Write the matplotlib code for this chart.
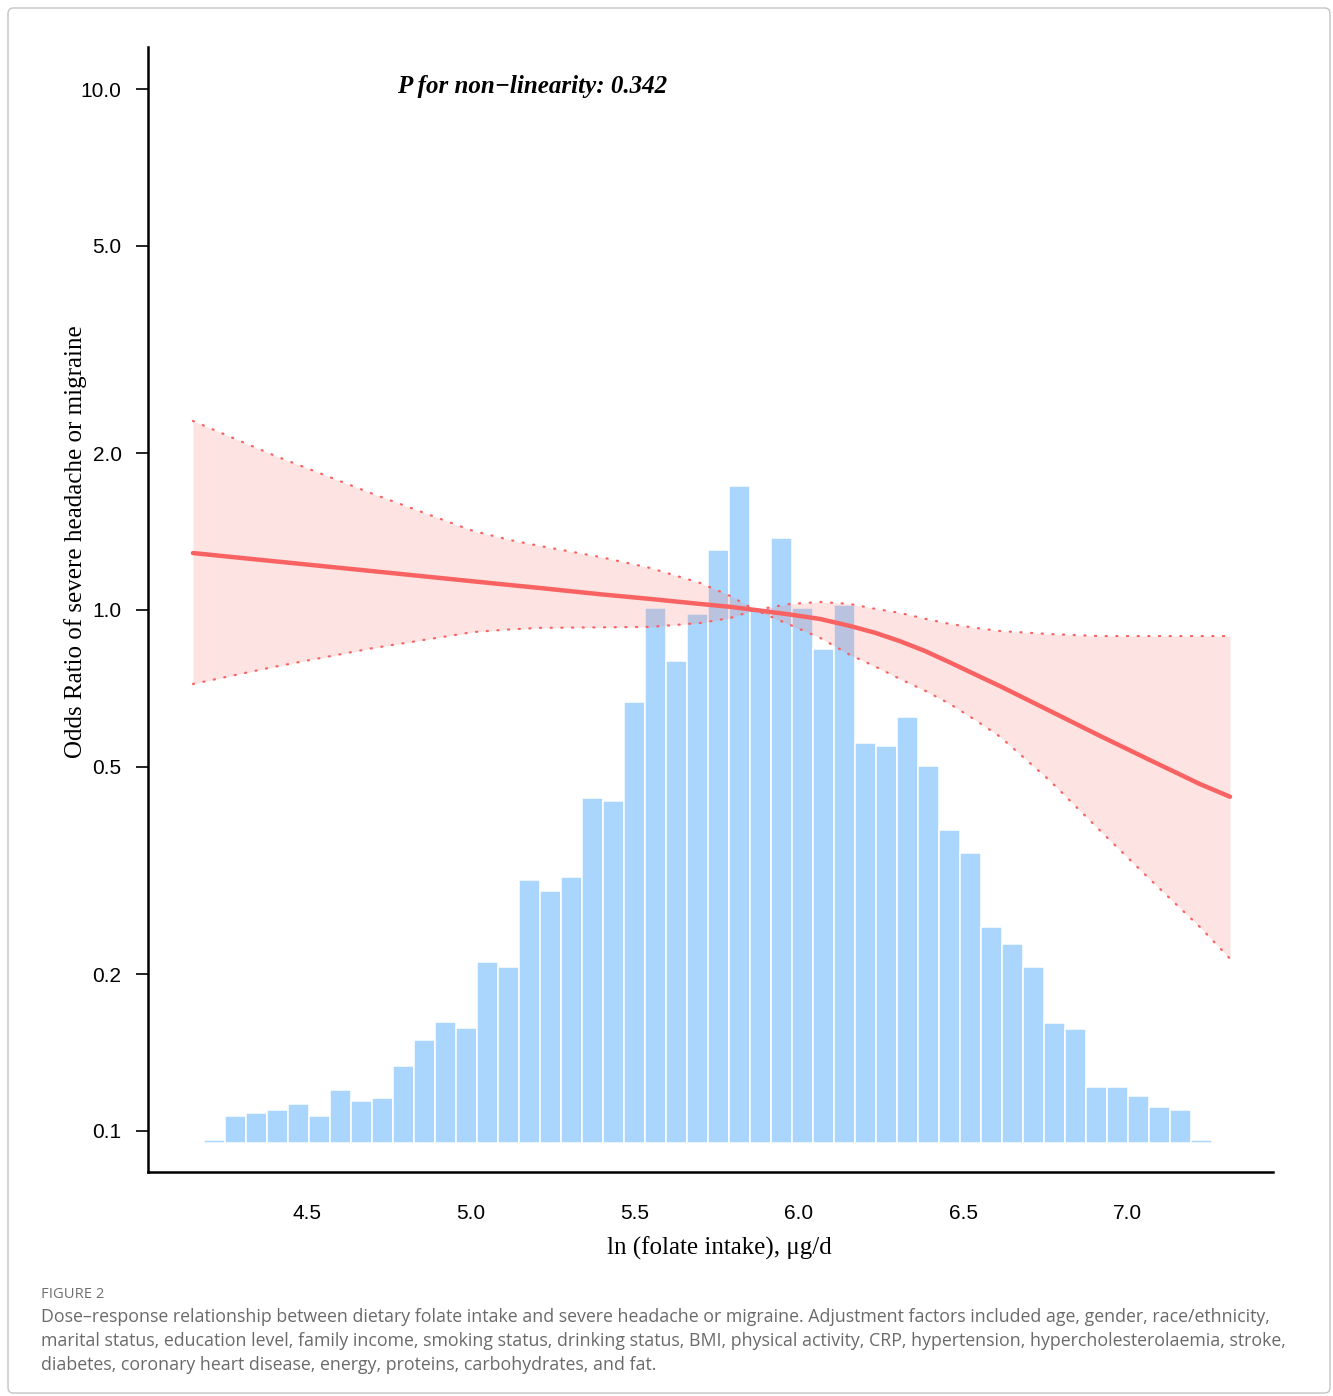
import matplotlib
matplotlib.use("Agg")
import matplotlib.pyplot as plt
from matplotlib.patches import FancyBboxPatch
import numpy as np

# restricted cubic spline: ln(folate) vs odds ratio
x_fit = [4.152, 4.396, 4.701, 5.006, 5.122, 5.210, 5.393, 5.546, 5.698, 5.790, 5.866,
         5.973, 6.064, 6.155, 6.232, 6.308, 6.384, 6.460, 6.537, 6.613, 6.765, 6.918,
         7.070, 7.223, 7.314]
or_fit = [1.286, 1.241, 1.187, 1.135, 1.116, 1.102, 1.072, 1.050, 1.027, 1.014, 1.000,
          0.980, 0.961, 0.932, 0.904, 0.871, 0.834, 0.793, 0.752, 0.714, 0.640, 0.573,
          0.515, 0.463, 0.438]
ci_upper = [2.306, 1.984, 1.670, 1.418, 1.361, 1.327, 1.264, 1.204, 1.127, 1.064, 1.000,
            1.027, 1.036, 1.027, 1.005, 0.987, 0.962, 0.940, 0.924, 0.911, 0.899, 0.891,
            0.891, 0.891, 0.891]
ci_lower = [0.721, 0.777, 0.845, 0.907, 0.918, 0.924, 0.926, 0.928, 0.944, 0.965, 1.000,
            0.936, 0.884, 0.820, 0.779, 0.737, 0.700, 0.660, 0.615, 0.571, 0.470, 0.377,
            0.304, 0.246, 0.214]

# distribution of ln(folate intake), 48 bins
bin_start = 4.186
bin_width = 0.064
hist_counts = [3, 27, 30, 33, 39, 27, 53, 42, 45, 77, 103, 121, 115, 181, 176, 263,
               252, 266, 345, 342, 441, 535, 482, 529, 593, 657, 535, 605, 535, 494,
               538, 400, 397, 426, 377, 313, 290, 216, 199, 176, 120, 114, 56, 56,
               47, 36, 33, 3]

y_ticks = [0.1, 0.2, 0.5, 1.0, 2.0, 5.0, 10.0]
x_ticks = [4.5, 5.0, 5.5, 6.0, 6.5, 7.0]

caption_title = "FIGURE 2"
caption_lines = [
    "Dose\u2013response relationship between dietary folate intake and severe headache or migraine. Adjustment factors included age, gender, race/ethnicity,",
    "marital status, education level, family income, smoking status, drinking status, BMI, physical activity, CRP, hypertension, hypercholesterolaemia, stroke,",
    "diabetes, coronary heart disease, energy, proteins, carbohydrates, and fat.",
]

line_col = "#F96262"
band_col = "#F8766D"
bar_col = "#AAD5FC"

fig = plt.figure(figsize=(13.33, 13.96), dpi=100)
ax = fig.add_axes([148 / 1333, 1 - 1172 / 1396, (1273 - 148) / 1333, (1172 - 47) / 1396])
ax2 = ax.twinx()

# histogram in the background
lefts = [bin_start + i * bin_width for i in range(len(hist_counts))]
ax2.bar(lefts, hist_counts, width=bin_width, align="edge", color=bar_col,
        edgecolor="white", linewidth=1.1)
ax2.set_ylim(-29, 1096)
ax2.axis("off")

ax.set_zorder(ax2.get_zorder() + 1)
ax.patch.set_visible(False)

ax.fill_between(x_fit, ci_lower, ci_upper, color=band_col, alpha=0.2, linewidth=0)
ax.plot(x_fit, ci_upper, color=line_col, lw=1.6, linestyle=(0, (0.5, 4.3)),
        dash_capstyle="round")
ax.plot(x_fit, ci_lower, color=line_col, lw=1.6, linestyle=(0, (0.5, 4.3)),
        dash_capstyle="round")
ax.plot(x_fit, or_fit, color=line_col, lw=3.2, solid_capstyle="round",
        solid_joinstyle="round")

ax.set_yscale("log")
ax.set_xlim(4.015, 7.445)
ax.set_ylim(0.0834, 12.04)
ax.set_yticks(y_ticks)
ax.set_yticklabels([f"{v:.1f}" for v in y_ticks])
ax.yaxis.set_minor_locator(matplotlib.ticker.NullLocator())
ax.set_xticks(x_ticks)
ax.set_xticklabels([f"{v:.1f}" for v in x_ticks])

for side in ["top", "right"]:
    ax.spines[side].set_visible(False)
for side in ["left", "bottom"]:
    ax.spines[side].set_linewidth(1.8)
ax.tick_params(axis="y", length=9, width=1.2, pad=10, labelsize=15)
ax.tick_params(axis="x", length=0, width=1.2, pad=23, labelsize=15)
for lab in ax.get_xticklabels() + ax.get_yticklabels():
    lab.set_fontfamily("Liberation Sans")

ax.set_xlabel("ln (folate intake), \u03bcg/d", fontfamily="Liberation Serif", fontsize=18)
ax.set_ylabel("Odds Ratio of severe headache or migraine", fontfamily="Liberation Serif",
              fontsize=18)
ax.xaxis.set_label_coords(0.5076, -0.0676)
ax.yaxis.set_label_coords(-0.0645, 0.56)
ax.xaxis.label.set_va("center")
ax.yaxis.label.set_va("center")

ax.text(4.774, 10.13, "P for non\u2212linearity: 0.342", fontfamily="Liberation Serif",
        fontstyle="italic", fontweight="bold", fontsize=18, ha="left", va="center")

# caption + frame
fig.patches.append(FancyBboxPatch((8 / 1333, 3 / 1396), 1322 / 1333, 1385 / 1396,
                                  boxstyle="round,pad=0,rounding_size=0.004",
                                  transform=fig.transFigure, facecolor="none",
                                  edgecolor="#C4C4C4", linewidth=1.0))
fig.text(41 / 1333, 1 - 1294 / 1396, caption_title, fontfamily="Open Sans", fontsize=10.6,
         color="#707070", va="center")
for i, line in enumerate(caption_lines):
    fig.text(41 / 1333, 1 - (1317 + 24 * i) / 1396, line, fontfamily="Open Sans",
             fontsize=12.75, color="#6a6a6a", va="center")

fig.savefig("out.png", dpi=100)
